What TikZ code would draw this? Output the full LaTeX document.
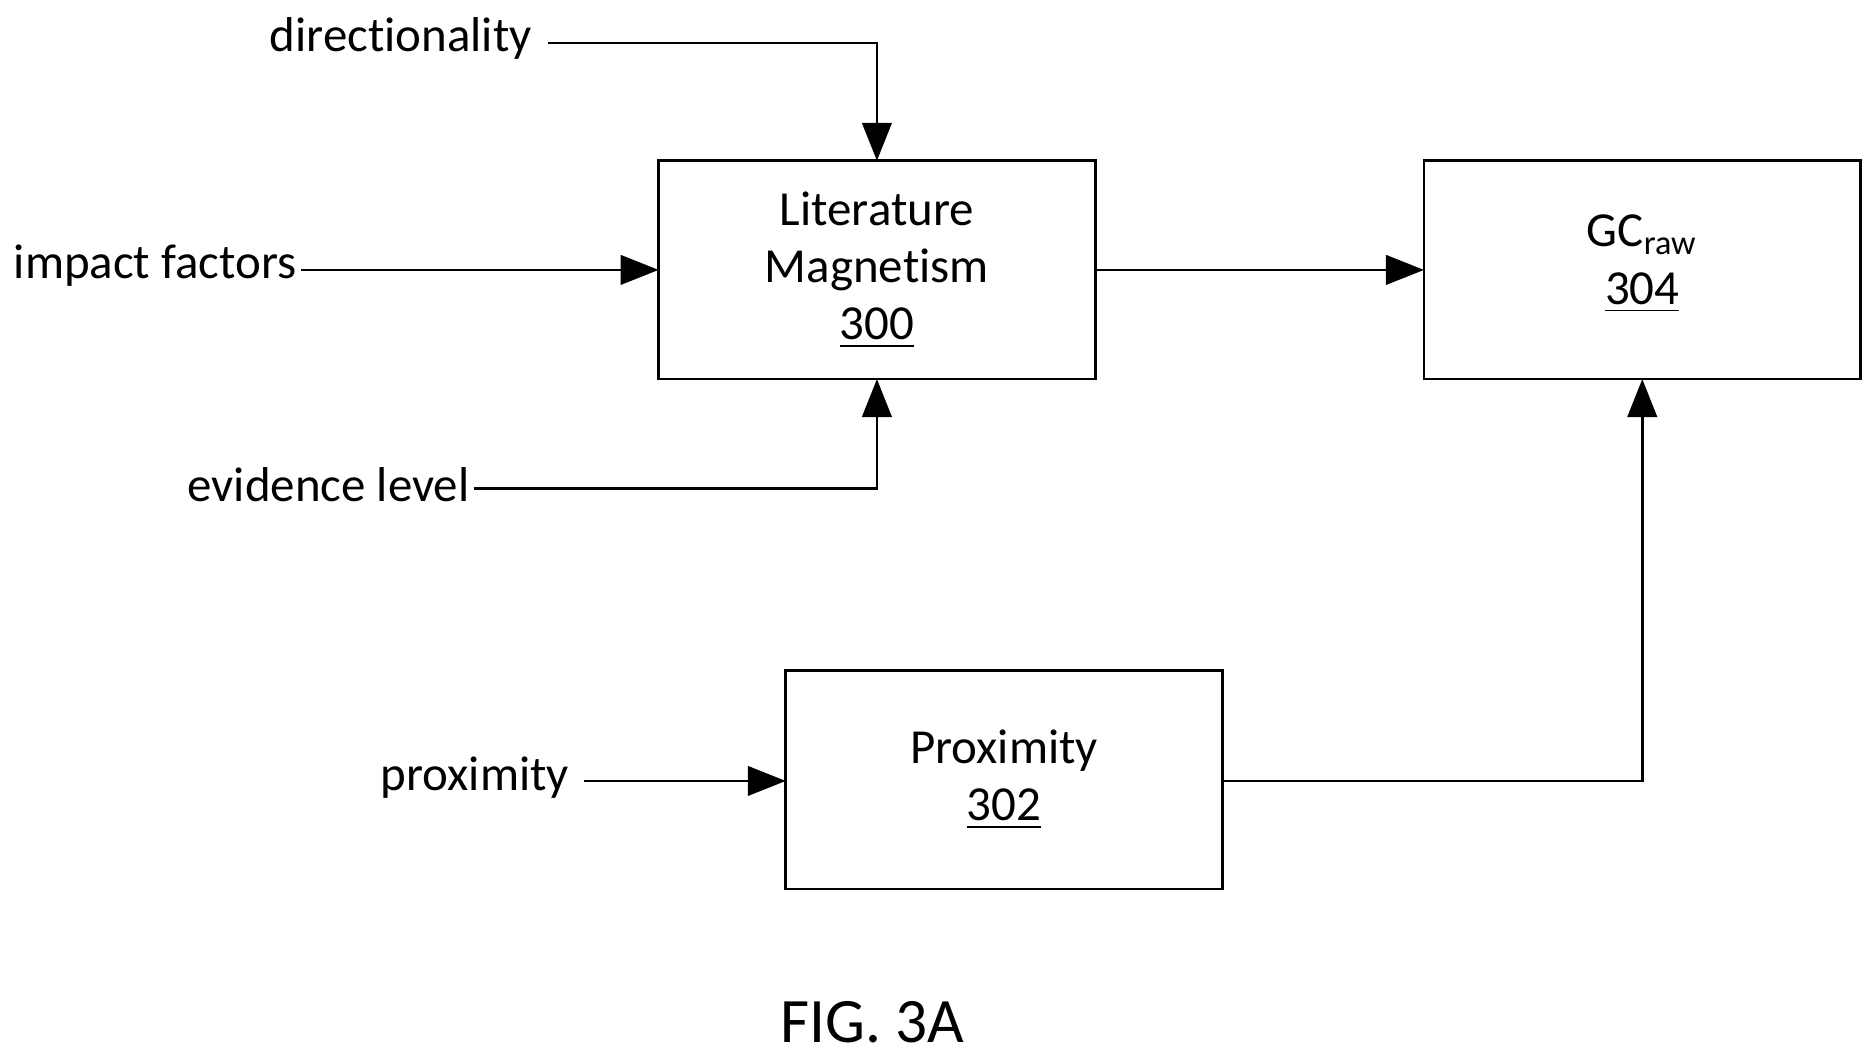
\documentclass[tikz,border=0pt]{standalone}
\usepackage{fontspec}
\setmainfont{Carlito}[Ligatures={NoCommon,NoRare,NoDiscretionary},RawFeature={-liga;-dlig}]
\usetikzlibrary{arrows.meta}
\begin{document}
\begin{tikzpicture}[x=0.01cm,y=-0.01cm,
  box/.style={draw,line width=0.6pt,inner sep=0pt},
  lab/.style={font=\fontsize{11.6}{13.6}\selectfont,inner sep=0pt},
  arr/.style={line width=0.6pt,-{Triangle[length=9pt,width=7pt]}},
  ln/.style={line width=0.6pt}]
\useasboundingbox (0,0) rectangle (1563,881);
\draw[box] (549,134) rectangle (913,316);
\draw[box] (1187,134) rectangle (1551,316);
\draw[box] (655,559) rectangle (1019,741);
\node[lab,align=center] (lm) at (731,225) {Literature\\Magnetism\\\underline{300}};
\node[lab,align=center] (gc) at (1369,220) {GC\textsubscript{raw}\\\underline{304}};
\node[lab,align=center] (px) at (837,650) {Proximity\\\underline{302}};
\coordinate (lmW) at (549,225); \coordinate (lmE) at (913,225);
\coordinate (lmN) at (731,134); \coordinate (lmS) at (731,316);
\coordinate (gcW) at (1187,225); \coordinate (gcS) at (1369,316);
\coordinate (pxW) at (655,651); \coordinate (pxE) at (1019,651);
\node[lab,anchor=east] (dir) at (444,32) {directionality};
\node[lab,anchor=east] (imp) at (248,221) {impact factors};
\node[lab,anchor=east] (ev) at (392,404) {evidence level};
\node[lab,anchor=east] (pr) at (475,648) {proximity};
\node[font=\fontsize{15}{18}\selectfont,inner sep=0pt] (fig) at (727,852) {FIG. 3A};
\draw[arr] (457,36) -| (lmN);
\draw[arr] (251,225) -- (lmW);
\draw[arr] (395,407) -| (lmS);
\draw[arr] (lmE) -- (gcW);
\draw[arr] (487,651) -- (pxW);
\draw[arr] (pxE) -| (gcS);
\end{tikzpicture}
\end{document}
